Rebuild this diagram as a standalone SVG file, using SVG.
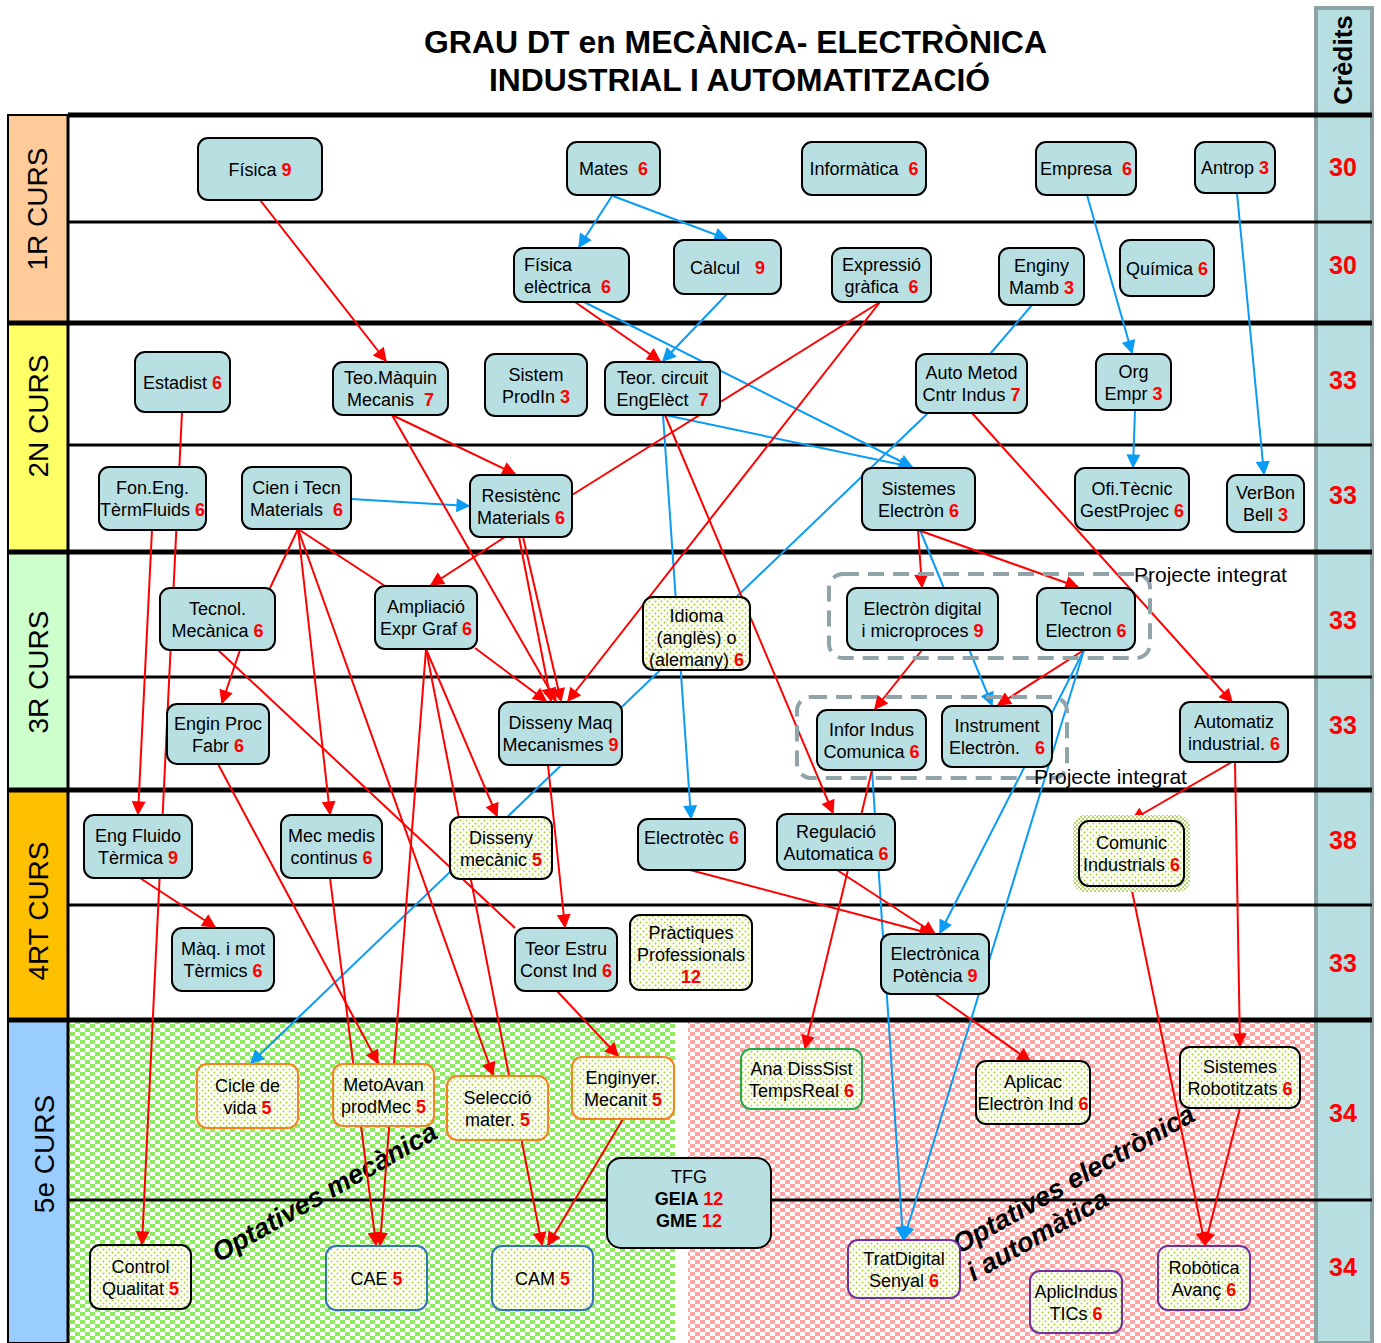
<svg xmlns="http://www.w3.org/2000/svg" width="1381" height="1343" viewBox="0 0 1381 1343">
<defs>
<style>
.t{font-family:"Liberation Sans",Arial,sans-serif;font-size:18px;fill:#000;text-anchor:middle}
.tl{text-anchor:start}
.n{fill:#FF0000;font-weight:bold}
.bd{font-weight:bold}
.nd{fill:#B8DFE2;stroke:#000;stroke-width:2}
.dt{fill:url(#dots);stroke:#000;stroke-width:2}
.or{fill:url(#dots);stroke:#F5821F;stroke-width:2}
.bl{fill:url(#dots);stroke:#2E75B6;stroke-width:2}
.gr{fill:url(#dots);stroke:#22AA44;stroke-width:2}
.pu{fill:url(#dots);stroke:#7030A0;stroke-width:2}
.r{stroke:#FF0000;stroke-width:2;fill:none;marker-end:url(#ar)}
.rp{stroke:#FF0000;stroke-width:2;fill:none}
.b{stroke:#0A9CF5;stroke-width:2;fill:none;marker-end:url(#ab)}
.bp{stroke:#0A9CF5;stroke-width:2;fill:none}
.yr{font-family:"Liberation Sans",Arial,sans-serif;font-size:28px;fill:#000;text-anchor:middle}
.cr{font-family:"Liberation Sans",Arial,sans-serif;font-size:25px;fill:#FF0000;font-weight:bold;text-anchor:middle}
.pi{font-family:"Liberation Sans",Arial,sans-serif;font-size:21px;fill:#000}
.op{font-family:"Liberation Sans",Arial,sans-serif;font-size:27px;fill:#000;font-weight:bold;font-style:italic;text-anchor:middle}
.dash{fill:none;stroke:#8FA3A8;stroke-width:4;stroke-dasharray:16 9}
.thk{stroke:#000;stroke-width:5}
.thn{stroke:#000;stroke-width:3}
</style>
<pattern id="dots" width="6" height="6" patternUnits="userSpaceOnUse"><rect width="6" height="6" fill="#FDFDF2"/><circle cx="1.5" cy="1.5" r="0.9" fill="#A5D040"/><circle cx="4.5" cy="4.5" r="0.9" fill="#A5D040"/></pattern>
<pattern id="halo" width="4" height="4" patternUnits="userSpaceOnUse"><rect width="4" height="4" fill="#FFFFFF"/><circle cx="1" cy="1" r="1" fill="#A5D040"/><circle cx="3" cy="3" r="1" fill="#A5D040"/></pattern>
<pattern id="gbg" width="10" height="8" patternUnits="userSpaceOnUse"><rect width="10" height="8" fill="#FFFFFF"/><rect x="0" y="0" width="5" height="4" fill="#8CEB5E"/><rect x="5" y="4" width="5" height="4" fill="#8CEB5E"/></pattern>
<pattern id="pbg" width="10" height="8" patternUnits="userSpaceOnUse"><rect width="10" height="8" fill="#FFFFFF"/><rect x="0" y="0" width="5" height="4" fill="#FFA3A3"/><rect x="5" y="4" width="5" height="4" fill="#FFA3A3"/></pattern>
<marker id="ar" viewBox="0 0 10 10" refX="9" refY="5" markerWidth="16" markerHeight="14" markerUnits="userSpaceOnUse" orient="auto"><path d="M0,0 L10,5 L0,10 z" fill="#FF0000"/></marker>
<marker id="ab" viewBox="0 0 10 10" refX="9" refY="5" markerWidth="16" markerHeight="14" markerUnits="userSpaceOnUse" orient="auto"><path d="M0,0 L10,5 L0,10 z" fill="#0A9CF5"/></marker>
</defs>

<rect width="1381" height="1343" fill="#FFFFFF"/>

<!-- 5e backgrounds -->
<rect x="68" y="1020" width="607" height="323" fill="url(#gbg)"/>
<rect x="688" y="1020" width="628" height="323" fill="url(#pbg)"/>

<!-- credits bar -->
<g id="credits">
<rect x="1316" y="8" width="56" height="1335" fill="#B7DEE0" stroke="#8CA3A6" stroke-width="4"/>
<text class="t bd" style="font-size:26px" transform="translate(1352,60) rotate(-90)">Crèdits</text>
<text class="cr" x="1343" y="176">30</text>
<text class="cr" x="1343" y="274">30</text>
<text class="cr" x="1343" y="389">33</text>
<text class="cr" x="1343" y="504">33</text>
<text class="cr" x="1343" y="629">33</text>
<text class="cr" x="1343" y="734">33</text>
<text class="cr" x="1343" y="849">38</text>
<text class="cr" x="1343" y="972">33</text>
<text class="cr" x="1343" y="1122">34</text>
<text class="cr" x="1343" y="1276">34</text>
</g>

<!-- year column -->
<g id="years">
<rect x="8" y="115" width="60" height="207" fill="#FFCC99" stroke="#000" stroke-width="2"/>
<rect x="8" y="322" width="60" height="230" fill="#FFFF66" stroke="#000" stroke-width="2"/>
<rect x="8" y="552" width="60" height="238" fill="#CCFFCC" stroke="#000" stroke-width="2"/>
<rect x="8" y="790" width="60" height="230" fill="#FFC000" stroke="#000" stroke-width="2"/>
<rect x="8" y="1020" width="60" height="323" fill="#99CCFF" stroke="#000" stroke-width="2"/>
<line x1="68" y1="115" x2="68" y2="1343" stroke="#000" stroke-width="3"/>
<text class="yr" transform="translate(47,209) rotate(-90)">1R CURS</text>
<text class="yr" transform="translate(48,416) rotate(-90)">2N CURS</text>
<text class="yr" transform="translate(48,672) rotate(-90)">3R CURS</text>
<text class="yr" transform="translate(48,911) rotate(-90)">4RT CURS</text>
<text class="yr" transform="translate(54,1154) rotate(-90)">5e CURS</text>
</g>

<!-- title -->
<g id="title">
<text class="t bd" style="font-size:31px" x="735.5" y="53" textLength="623" lengthAdjust="spacingAndGlyphs">GRAU DT en MECÀNICA- ELECTRÒNICA</text>
<text class="t bd" style="font-size:31px" x="739.5" y="91" textLength="501" lengthAdjust="spacingAndGlyphs">INDUSTRIAL I AUTOMATITZACIÓ</text>
</g>

<!-- grid lines -->
<g id="grid">
<line class="thk" x1="68" y1="115" x2="1372" y2="115"/>
<line class="thn" x1="68" y1="222" x2="1372" y2="222"/>
<line class="thk" x1="8" y1="323" x2="1372" y2="323"/>
<line class="thn" x1="68" y1="445" x2="1372" y2="445"/>
<line class="thk" x1="8" y1="552" x2="1372" y2="552"/>
<line class="thn" x1="68" y1="677" x2="1372" y2="677"/>
<line class="thk" x1="8" y1="790" x2="1372" y2="790"/>
<line class="thn" x1="68" y1="905" x2="1372" y2="905"/>
<line class="thk" x1="8" y1="1020" x2="1372" y2="1020"/>
<line class="thn" x1="68" y1="1200" x2="1372" y2="1200"/>
</g>

<!-- optatives labels -->
<text class="op" x="329" y="1200" transform="rotate(-29.6 329 1200)">Optatives mecànica</text>
<text class="op" x="1078" y="1187" transform="rotate(-29.5 1078 1187)">Optatives electrònica</text>
<text class="op" x="1042" y="1243" transform="rotate(-29.5 1042 1243)">i automàtica</text>

<!-- connectors -->
<g id="connectors">
<path class="b" d="M612,196 L579,247"/>
<path class="b" d="M613,196 L727,239"/>
<path class="b" d="M727,294 L663,361"/>
<path class="b" d="M584,302 L912,467"/>
<path class="b" d="M665,415 L912,467"/>
<path class="bp" d="M1032,305 L990,354"/>
<path class="b" d="M1087,195 L1132,353"/>
<path class="b" d="M1135,410 L1133,467"/>
<path class="b" d="M1237,193 L1264,474"/>
<path class="b" d="M351,499 L469,506"/>
<path class="b" d="M928,413 L251,1063"/>
<path class="b" d="M663,415 L691,818"/>
<path class="b" d="M920,530 L992,705"/>
<path class="b" d="M1084,650 L940,933"/>
<path class="b" d="M1084,650 L904,1239"/>
<path class="b" d="M872,770 L903,1239"/>

<path class="r" d="M260,200 L386,361"/>
<path class="r" d="M575,302 L660,361"/>
<path class="rp" d="M880,302 L572,495"/>
<path class="r" d="M880,302 L568,701"/>
<path class="r" d="M392,415 L515,474"/>
<path class="r" d="M392,415 L556,701"/>
<path class="r" d="M519,537 L551,701"/>
<path class="r" d="M523,537 L561,701"/>
<path class="r" d="M505,537 L431,585"/>
<path class="r" d="M475,648 L546,701"/>
<path class="rp" d="M298,529 L270,588"/>
<path class="rp" d="M298,529 L385,586"/>
<path class="r" d="M298,529 L330,814"/>
<path class="r" d="M298,529 L493,1075"/>
<path class="r" d="M426,649 L497,816"/>
<path class="r" d="M426,649 L380,1245"/>
<path class="r" d="M426,649 L542,1245"/>
<path class="r" d="M182,412 L142,1244"/>
<path class="r" d="M152,530 L138,814"/>
<path class="r" d="M140,878 L215,927"/>
<path class="r" d="M240,650 L222,703"/>
<path class="rp" d="M218,650 L515,928"/>
<path class="r" d="M218,764 L378,1063"/>
<path class="r" d="M330,878 L376,1245"/>
<path class="r" d="M548,765 L565,927"/>
<path class="r" d="M557,991 L618,1056"/>
<path class="r" d="M623,1119 L548,1245"/>
<path class="r" d="M665,415 L833,813"/>
<path class="r" d="M918,530 L922,587"/>
<path class="r" d="M918,530 L1078,587"/>
<path class="r" d="M922,650 L875,709"/>
<path class="r" d="M1084,650 L998,705"/>
<path class="r" d="M972,413 L1232,702"/>
<path class="r" d="M1232,762 L1132,820"/>
<path class="r" d="M1235,762 L1240,1046"/>
<path class="r" d="M1131,886 L1205,1245"/>
<path class="r" d="M1240,1108 L1205,1245"/>
<path class="r" d="M872,770 L805,1048"/>
<path class="r" d="M690,870 L932,934"/>
<path class="r" d="M837,870 L935,934"/>
<path class="r" d="M935,994 L1030,1061"/>
</g>

<!-- projecte integrat groups -->
<g id="projecte1">
<rect class="dash" x="829" y="574" width="321" height="84" rx="14"/>
<text class="pi" x="1134" y="582">Projecte integrat</text>
</g>
<g id="projecte2">
<rect class="dash" x="797" y="697" width="270" height="81" rx="14"/>
<text class="pi" x="1034" y="784">Projecte integrat</text>
</g>

<!-- nodes 1R -->
<g id="fisica"><rect class="nd" x="198" y="138" width="124" height="62" rx="10"/><text class="t" x="260" y="175.5">Física <tspan class="n">9</tspan></text></g>
<g id="mates"><rect class="nd" x="567" y="142" width="93" height="53" rx="10"/><text class="t" x="613.5" y="175">Mates&#160; <tspan class="n">6</tspan></text></g>
<g id="informatica"><rect class="nd" x="802" y="142" width="124" height="53" rx="10"/><text class="t" x="864" y="175">Informàtica&#160; <tspan class="n">6</tspan></text></g>
<g id="empresa"><rect class="nd" x="1036" y="142" width="100" height="53" rx="10"/><text class="t" x="1086" y="175">Empresa&#160; <tspan class="n">6</tspan></text></g>
<g id="antrop"><rect class="nd" x="1195" y="142" width="80" height="51" rx="10"/><text class="t" x="1235" y="174">Antrop <tspan class="n">3</tspan></text></g>
<g id="fisicaelec"><rect class="nd" x="514" y="248" width="115" height="54" rx="10"/><text class="t tl" x="524" y="271">Física</text><text class="t tl" x="524" y="293">elèctrica&#160; <tspan class="n">6</tspan></text></g>
<g id="calcul"><rect class="nd" x="674" y="240" width="107" height="54" rx="10"/><text class="t" x="727.5" y="273.5">Càlcul&#160;&#160; <tspan class="n">9</tspan></text></g>
<g id="expressio"><rect class="nd" x="832" y="248" width="99" height="54" rx="10"/><text class="t" x="881.5" y="270.5">Expressió</text><text class="t" x="881.5" y="292.5">gràfica&#160; <tspan class="n">6</tspan></text></g>
<g id="enginy"><rect class="nd" x="999" y="248" width="85" height="57" rx="10"/><text class="t" x="1041.5" y="272">Enginy</text><text class="t" x="1041.5" y="294">Mamb <tspan class="n">3</tspan></text></g>
<g id="quimica"><rect class="nd" x="1120" y="240" width="94" height="56" rx="10"/><text class="t" x="1167" y="274.5">Química <tspan class="n">6</tspan></text></g>

<!-- nodes 2N -->
<g id="estadist"><rect class="nd" x="135" y="352" width="95" height="60" rx="10"/><text class="t" x="182.5" y="388.5">Estadist <tspan class="n">6</tspan></text></g>
<g id="teomaq"><rect class="nd" x="333" y="362" width="115" height="53" rx="10"/><text class="t" x="390.5" y="384">Teo.Màquin</text><text class="t" x="390.5" y="406">Mecanis&#160; <tspan class="n">7</tspan></text></g>
<g id="sistem"><rect class="nd" x="485" y="354" width="102" height="62" rx="10"/><text class="t" x="536" y="380.5">Sistem</text><text class="t" x="536" y="402.5">ProdIn <tspan class="n">3</tspan></text></g>
<g id="teorcirc"><rect class="nd" x="605" y="362" width="115" height="53" rx="10"/><text class="t" x="662.5" y="384">Teor. circuit</text><text class="t" x="662.5" y="406">EngElèct&#160; <tspan class="n">7</tspan></text></g>
<g id="automet"><rect class="nd" x="916" y="354" width="111" height="59" rx="10"/><text class="t" x="971.5" y="379">Auto Metod</text><text class="t" x="971.5" y="401">Cntr Indus <tspan class="n">7</tspan></text></g>
<g id="orgempr"><rect class="nd" x="1096" y="354" width="75" height="56" rx="10"/><text class="t" x="1133.5" y="377.5">Org</text><text class="t" x="1133.5" y="399.5">Empr <tspan class="n">3</tspan></text></g>
<g id="foneng"><rect class="nd" x="99" y="467" width="107" height="63" rx="10"/><text class="t" x="152.5" y="494">Fon.Eng.</text><text class="t" x="152.5" y="516">TèrmFluids <tspan class="n">6</tspan></text></g>
<g id="cientec"><rect class="nd" x="242" y="467" width="109" height="62" rx="10"/><text class="t" x="296.5" y="493.5">Cien i Tecn</text><text class="t" x="296.5" y="515.5">Materials&#160; <tspan class="n">6</tspan></text></g>
<g id="resist"><rect class="nd" x="470" y="475" width="102" height="62" rx="10"/><text class="t" x="521" y="501.5">Resistènc</text><text class="t" x="521" y="523.5">Materials <tspan class="n">6</tspan></text></g>
<g id="sistelec"><rect class="nd" x="862" y="468" width="113" height="62" rx="10"/><text class="t" x="918.5" y="494.5">Sistemes</text><text class="t" x="918.5" y="516.5">Electròn <tspan class="n">6</tspan></text></g>
<g id="ofitec"><rect class="nd" x="1075" y="468" width="114" height="62" rx="10"/><text class="t" x="1132" y="494.5">Ofi.Tècnic</text><text class="t" x="1132" y="516.5">GestProjec <tspan class="n">6</tspan></text></g>
<g id="verbon"><rect class="nd" x="1227" y="475" width="77" height="57" rx="10"/><text class="t" x="1265.5" y="499">VerBon</text><text class="t" x="1265.5" y="521">Bell <tspan class="n">3</tspan></text></g>

<!-- nodes 3R -->
<g id="tecmec"><rect class="nd" x="160" y="588" width="115" height="62" rx="10"/><text class="t" x="217.5" y="614.5">Tecnol.</text><text class="t" x="217.5" y="636.5">Mecànica <tspan class="n">6</tspan></text></g>
<g id="amplia"><rect class="nd" x="375" y="586" width="102" height="63" rx="10"/><text class="t" x="426" y="613">Ampliació</text><text class="t" x="426" y="635">Expr Graf <tspan class="n">6</tspan></text></g>
<g id="idioma"><rect class="dt" x="643" y="597" width="107" height="73" rx="10"/><text class="t" x="696.5" y="622">Idioma</text><text class="t" x="696.5" y="644">(anglès) o</text><text class="t" x="696.5" y="666">(alemany) <tspan class="n">6</tspan></text></g>
<g id="elecdig"><rect class="nd" x="847" y="588" width="151" height="62" rx="10"/><text class="t" x="922.5" y="614.5">Electròn digital</text><text class="t" x="922.5" y="636.5">i microproces <tspan class="n">9</tspan></text></g>
<g id="tecelec"><rect class="nd" x="1037" y="588" width="98" height="62" rx="10"/><text class="t" x="1086" y="614.5">Tecnol</text><text class="t" x="1086" y="636.5">Electron <tspan class="n">6</tspan></text></g>
<g id="enginproc"><rect class="nd" x="167" y="704" width="102" height="60" rx="10"/><text class="t" x="218" y="729.5">Engin Proc</text><text class="t" x="218" y="751.5">Fabr <tspan class="n">6</tspan></text></g>
<g id="dissmaq"><rect class="nd" x="499" y="702" width="123" height="63" rx="10"/><text class="t" x="560.5" y="729">Disseny Maq</text><text class="t" x="560.5" y="751">Mecanismes <tspan class="n">9</tspan></text></g>
<g id="inforind"><rect class="nd" x="817" y="710" width="109" height="60" rx="10"/><text class="t" x="871.5" y="735.5">Infor Indus</text><text class="t" x="871.5" y="757.5">Comunica <tspan class="n">6</tspan></text></g>
<g id="instrum"><rect class="nd" x="942" y="706" width="110" height="61" rx="10"/><text class="t" x="997" y="732">Instrument</text><text class="t" x="997" y="754">Electròn.&#160;&#160; <tspan class="n">6</tspan></text></g>
<g id="automatiz"><rect class="nd" x="1180" y="702" width="108" height="60" rx="10"/><text class="t" x="1234" y="727.5">Automatiz</text><text class="t" x="1234" y="749.5">industrial. <tspan class="n">6</tspan></text></g>

<!-- nodes 4RT -->
<g id="engfluid"><rect class="nd" x="84" y="815" width="108" height="63" rx="10"/><text class="t" x="138" y="842">Eng Fluido</text><text class="t" x="138" y="864">Tèrmica <tspan class="n">9</tspan></text></g>
<g id="mecmedis"><rect class="nd" x="281" y="815" width="101" height="63" rx="10"/><text class="t" x="331.5" y="842">Mec medis</text><text class="t" x="331.5" y="864">continus <tspan class="n">6</tspan></text></g>
<g id="dissmec"><rect class="dt" x="450" y="817" width="102" height="62" rx="10"/><text class="t" x="501" y="843.5">Disseny</text><text class="t" x="501" y="865.5">mecànic <tspan class="n">5</tspan></text></g>
<g id="electrotec"><rect class="nd" x="638" y="819" width="107" height="51" rx="10"/><text class="t" x="691.5" y="844">Electrotèc <tspan class="n">6</tspan></text></g>
<g id="regulacio"><rect class="nd" x="777" y="814" width="118" height="56" rx="10"/><text class="t" x="836" y="837.5">Regulació</text><text class="t" x="836" y="859.5">Automatica <tspan class="n">6</tspan></text></g>
<g id="comunic"><rect x="1073" y="815" width="117" height="77" rx="12" fill="url(#halo)"/><rect class="dt" x="1079" y="821" width="105" height="65" rx="10"/><text class="t" x="1131.5" y="849">Comunic</text><text class="t" x="1131.5" y="871">Industrials <tspan class="n">6</tspan></text></g>
<g id="maqmot"><rect class="nd" x="172" y="928" width="102" height="63" rx="10"/><text class="t" x="223" y="955">Màq. i mot</text><text class="t" x="223" y="977">Tèrmics <tspan class="n">6</tspan></text></g>
<g id="teorestru"><rect class="nd" x="515" y="928" width="102" height="63" rx="10"/><text class="t" x="566" y="955">Teor Estru</text><text class="t" x="566" y="977">Const Ind <tspan class="n">6</tspan></text></g>
<g id="practiques"><rect class="dt" x="630" y="915" width="122" height="75" rx="10"/><text class="t" x="691" y="939">Pràctiques</text><text class="t" x="691" y="961">Professionals</text><text class="t n" x="691" y="983">12</text></g>
<g id="elecpot"><rect class="nd" x="881" y="934" width="108" height="60" rx="10"/><text class="t" x="935" y="959.5">Electrònica</text><text class="t" x="935" y="981.5">Potència <tspan class="n">9</tspan></text></g>

<!-- nodes 5e -->
<g id="cicle"><rect class="or" x="197" y="1064" width="101" height="64" rx="10"/><text class="t" x="247.5" y="1091.5">Cicle de</text><text class="t" x="247.5" y="1113.5">vida <tspan class="n">5</tspan></text></g>
<g id="metoavan"><rect class="or" x="333" y="1064" width="101" height="62" rx="10"/><text class="t" x="383.5" y="1090.5">MetoAvan</text><text class="t" x="383.5" y="1112.5">prodMec <tspan class="n">5</tspan></text></g>
<g id="seleccio"><rect class="or" x="447" y="1076" width="101" height="64" rx="10"/><text class="t" x="497.5" y="1103.5">Selecció</text><text class="t" x="497.5" y="1125.5">mater. <tspan class="n">5</tspan></text></g>
<g id="enginyer"><rect class="or" x="572" y="1057" width="102" height="62" rx="10"/><text class="t" x="623" y="1083.5">Enginyer.</text><text class="t" x="623" y="1105.5">Mecanit <tspan class="n">5</tspan></text></g>
<g id="tfg"><rect class="nd" x="607" y="1158" width="164" height="90" rx="14"/><text class="t" x="689" y="1183">TFG</text><text class="t bd" x="689" y="1205">GEIA <tspan class="n">12</tspan></text><text class="t bd" x="689" y="1227">GME <tspan class="n">12</tspan></text></g>
<g id="control"><rect class="dt" x="90" y="1245" width="101" height="64" rx="10"/><text class="t" x="140.5" y="1272.5">Control</text><text class="t" x="140.5" y="1294.5">Qualitat <tspan class="n">5</tspan></text></g>
<g id="cae"><rect class="bl" x="326" y="1246" width="101" height="64" rx="10"/><text class="t" x="376.5" y="1284.5">CAE <tspan class="n">5</tspan></text></g>
<g id="cam"><rect class="bl" x="492" y="1246" width="101" height="64" rx="10"/><text class="t" x="542.5" y="1284.5">CAM <tspan class="n">5</tspan></text></g>
<g id="anadiss"><rect class="gr" x="741" y="1049" width="121" height="60" rx="10"/><text class="t" x="801.5" y="1074.5">Ana DissSist</text><text class="t" x="801.5" y="1096.5">TempsReal <tspan class="n">6</tspan></text></g>
<g id="aplicac"><rect class="dt" x="976" y="1061" width="114" height="63" rx="10"/><text class="t" x="1033" y="1088">Aplicac</text><text class="t" x="1033" y="1110">Electròn Ind <tspan class="n">6</tspan></text></g>
<g id="sistrobot"><rect class="dt" x="1180" y="1047" width="120" height="61" rx="10"/><text class="t" x="1240" y="1073">Sistemes</text><text class="t" x="1240" y="1095">Robotitzats <tspan class="n">6</tspan></text></g>
<g id="tratdig"><rect class="pu" x="848" y="1240" width="112" height="58" rx="10"/><text class="t" x="904" y="1264.5">TratDigital</text><text class="t" x="904" y="1286.5">Senyal <tspan class="n">6</tspan></text></g>
<g id="aplicind"><rect class="pu" x="1030" y="1271" width="92" height="62" rx="10"/><text class="t" x="1076" y="1297.5">AplicIndus</text><text class="t" x="1076" y="1319.5">TICs <tspan class="n">6</tspan></text></g>
<g id="robotica"><rect class="pu" x="1158" y="1246" width="92" height="64" rx="10"/><text class="t" x="1204" y="1273.5">Robòtica</text><text class="t" x="1204" y="1295.5">Avanç <tspan class="n">6</tspan></text></g>
</svg>
